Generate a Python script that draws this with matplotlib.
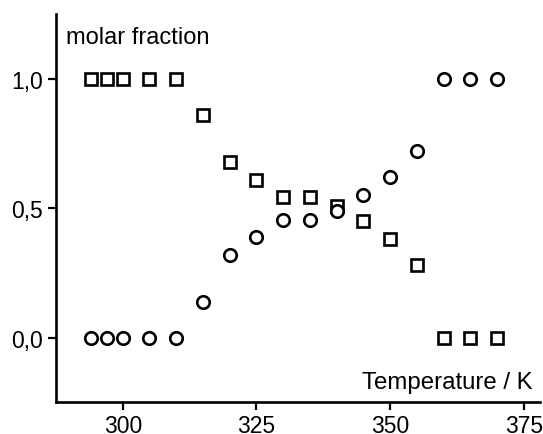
import matplotlib
matplotlib.use("Agg")
import matplotlib.pyplot as plt
from matplotlib.ticker import FuncFormatter

temps = [294, 297, 300, 305, 310, 315, 320, 325, 330, 335, 340, 345, 350, 355, 360, 365, 370]
frac_squares = [1.0, 1.0, 1.0, 1.0, 1.0, 0.86, 0.68, 0.61, 0.545, 0.545, 0.51, 0.45, 0.38, 0.28, 0.0, 0.0, 0.0]
frac_circles = [0.0, 0.0, 0.0, 0.0, 0.0, 0.14, 0.32, 0.39, 0.455, 0.455, 0.49, 0.55, 0.62, 0.72, 1.0, 1.0, 1.0]
xticks = [300, 325, 350, 375]
yticks = [0.0, 0.5, 1.0]

plt.rcParams['font.family'] = ['Liberation Sans', 'DejaVu Sans']

fig = plt.figure(figsize=(5.43, 4.35), dpi=100)
ax = fig.add_axes([0.103, 0.0736, 0.891, 0.892])

ax.plot(temps, frac_squares, linestyle='none', marker='s', markersize=8,
        markerfacecolor='white', markeredgecolor='black', markeredgewidth=1.9)
ax.plot(temps, frac_circles, linestyle='none', marker='o', markersize=9,
        markerfacecolor='white', markeredgecolor='black', markeredgewidth=1.9)

ax.set_xlim(287.5, 378)
ax.set_ylim(-0.247, 1.25)
ax.set_xticks(xticks)
ax.set_yticks(yticks)
ax.yaxis.set_major_formatter(FuncFormatter(lambda v, p: f"{v:.1f}".replace('.', ',')))

for s in ['top', 'right']:
    ax.spines[s].set_visible(False)
for s in ['left', 'bottom']:
    ax.spines[s].set_linewidth(1.9)
ax.tick_params(direction='out', length=6, width=1.6, labelsize=16.5, pad=3.5, colors='black')
ax.tick_params(axis='x', pad=2.5)

ax.text(0.02, 0.97, 'molar fraction', transform=ax.transAxes, fontsize=17,
        ha='left', va='top')
ax.text(0.985, 0.022, 'Temperature / K', transform=ax.transAxes, fontsize=17.3,
        ha='right', va='bottom')

fig.savefig('out.png', dpi=100)
